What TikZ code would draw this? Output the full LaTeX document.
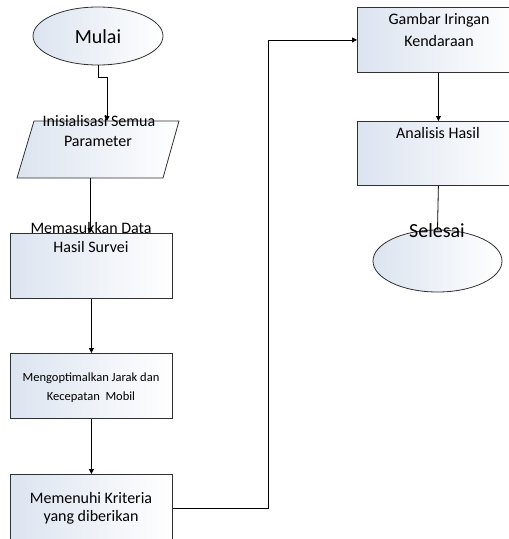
\documentclass[tikz,border=0pt]{standalone}
\usepackage{fontspec}
\setmainfont{Carlito}
\usetikzlibrary{arrows.meta,shapes.geometric}
\definecolor{fillblue}{HTML}{DCE4F0}
\definecolor{edgegray}{HTML}{303030}
\begin{document}
\begin{tikzpicture}[x=1pt,y=-1pt,
  shapefill/.style={draw=edgegray, line width=0.8pt, left color=fillblue, right color=white},
  box/.style={shapefill, rectangle, minimum width=162pt, minimum height=65pt, inner sep=0pt, anchor=north west},
  oval/.style={shapefill, ellipse, inner sep=0pt},
  lbl/.style={anchor=base, inner sep=0pt, text=black, font=\fontsize{16}{19}\selectfont},
  conn/.style={draw=black, line width=0.8pt},
  arr/.style={conn, -{Triangle[length=5pt,width=5pt]}}
]
\useasboundingbox (0,0) rectangle (509,539);
\clip (0,0) rectangle (509,539);

% shapes
\node[oval, minimum width=130pt, minimum height=58pt] (mulai) at (98,36) {};
\coordinate (pTL) at (34,121);
\coordinate (pTR) at (179,121);
\coordinate (pBR) at (163,178);
\coordinate (pBL) at (17,178);
\draw[shapefill] (pTL) -- (pTR) -- (pBR) -- (pBL) -- cycle;
\coordinate (pin) at (107,121);
\coordinate (pout) at (90,178);
\node[box] (r2) at (10,233) {};
\node[box] (r3) at (10,353) {};
\node[box, minimum height=67pt] (r4) at (10,474) {};
\node[box] (r5) at (357,7) {};
\node[box, minimum height=64pt] (r6) at (357,121) {};
\node[oval, minimum width=129pt, minimum height=62pt] (selesai) at (437.5,261) {};

% texts
\node[lbl, font=\fontsize{20}{24}\selectfont] (tmulai) at (98,43) {Mulai};
\node[lbl] (t1a) at (99,126) {Inisialisasi Semua};
\node[lbl] (t1b) at (98,146) {Parameter};
\node[lbl] (t2a) at (91,233) {Memasukkan Data};
\node[lbl] (t2b) at (91,252) {Hasil Survei};
\node[lbl, font=\fontsize{12.5}{15}\selectfont] (t3a) at (91,381) {Mengoptimalkan Jarak dan};
\node[lbl, font=\fontsize{12.5}{15}\selectfont] (t3b) at (91,400) {Kecepatan\ \ Mobil};
\node[lbl] (t4a) at (91,503) {Memenuhi Kriteria};
\node[lbl] (t4b) at (91,521) {yang diberikan};
\node[lbl] (t5a) at (439,24) {Gambar Iringan};
\node[lbl] (t5b) at (439,46) {Kendaraan};
\node[lbl] (t6) at (438,138) {Analisis Hasil};
\node[lbl, font=\fontsize{20}{24}\selectfont] (t7) at (437,237) {Selesai};

% connectors
\draw[arr] (mulai.south) -- ++(0,12) -| (pin);
\draw[arr] (pout) -- (pout |- r2.north);
\draw[arr] (r2.south) -- (r3.north);
\draw[arr] (r3.south) -- (r4.north);
\draw[arr] (r4.east) -- ++(96,0) |- (r5.west);
\draw[arr] (r5.south) -- (r6.north);
\draw[conn] (r6.south) -- (selesai.north);
\end{tikzpicture}
\end{document}
